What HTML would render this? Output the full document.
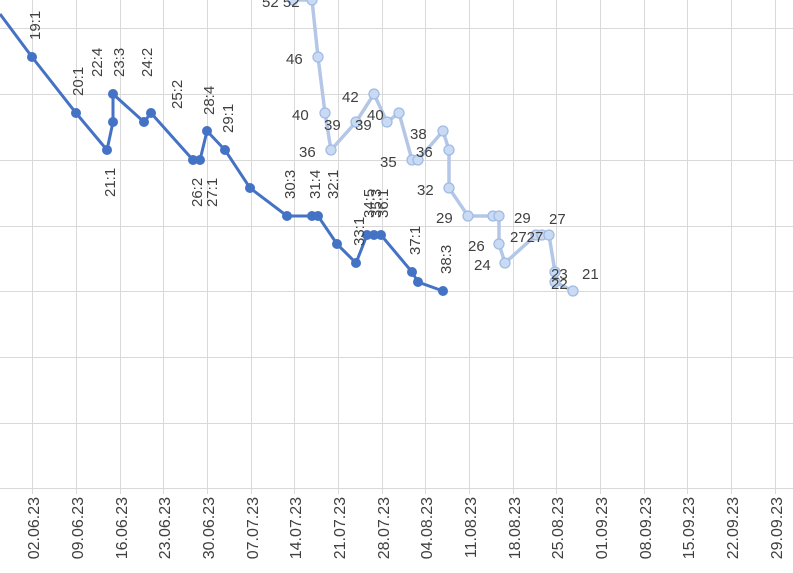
<!DOCTYPE html><html><head><style>body{margin:0;background:#fff}svg{display:block}text{font-family:"Liberation Sans",sans-serif;font-size:15px;fill:#404040}.ax{font-size:16px}</style></head><body>
<svg width="793" height="573" xmlns="http://www.w3.org/2000/svg">
<g stroke="#d9d9d9" stroke-width="1">
<line x1="0" y1="28.5" x2="793" y2="28.5"/><line x1="0" y1="94.5" x2="793" y2="94.5"/><line x1="0" y1="160.5" x2="793" y2="160.5"/><line x1="0" y1="226.5" x2="793" y2="226.5"/><line x1="0" y1="291.5" x2="793" y2="291.5"/><line x1="0" y1="357.5" x2="793" y2="357.5"/><line x1="0" y1="423.5" x2="793" y2="423.5"/><line x1="0" y1="488.5" x2="793" y2="488.5"/>
<line x1="32.5" y1="0" x2="32.5" y2="494"/><line x1="76.5" y1="0" x2="76.5" y2="494"/><line x1="120.5" y1="0" x2="120.5" y2="494"/><line x1="163.5" y1="0" x2="163.5" y2="494"/><line x1="207.5" y1="0" x2="207.5" y2="494"/><line x1="251.5" y1="0" x2="251.5" y2="494"/><line x1="294.5" y1="0" x2="294.5" y2="494"/><line x1="338.5" y1="0" x2="338.5" y2="494"/><line x1="382.5" y1="0" x2="382.5" y2="494"/><line x1="425.5" y1="0" x2="425.5" y2="494"/><line x1="469.5" y1="0" x2="469.5" y2="494"/><line x1="513.5" y1="0" x2="513.5" y2="494"/><line x1="556.5" y1="0" x2="556.5" y2="494"/><line x1="600.5" y1="0" x2="600.5" y2="494"/><line x1="644.5" y1="0" x2="644.5" y2="494"/><line x1="687.5" y1="0" x2="687.5" y2="494"/><line x1="731.5" y1="0" x2="731.5" y2="494"/><line x1="775.5" y1="0" x2="775.5" y2="494"/>
</g>
<g text-anchor="end" class="ax">
<text class="ax" transform="translate(39,497) rotate(-90)">02.06.23</text><text class="ax" transform="translate(83,497) rotate(-90)">09.06.23</text><text class="ax" transform="translate(127,497) rotate(-90)">16.06.23</text><text class="ax" transform="translate(170,497) rotate(-90)">23.06.23</text><text class="ax" transform="translate(214,497) rotate(-90)">30.06.23</text><text class="ax" transform="translate(258,497) rotate(-90)">07.07.23</text><text class="ax" transform="translate(301,497) rotate(-90)">14.07.23</text><text class="ax" transform="translate(345,497) rotate(-90)">21.07.23</text><text class="ax" transform="translate(389,497) rotate(-90)">28.07.23</text><text class="ax" transform="translate(432,497) rotate(-90)">04.08.23</text><text class="ax" transform="translate(476,497) rotate(-90)">11.08.23</text><text class="ax" transform="translate(520,497) rotate(-90)">18.08.23</text><text class="ax" transform="translate(563,497) rotate(-90)">25.08.23</text><text class="ax" transform="translate(607,497) rotate(-90)">01.09.23</text><text class="ax" transform="translate(651,497) rotate(-90)">08.09.23</text><text class="ax" transform="translate(694,497) rotate(-90)">15.09.23</text><text class="ax" transform="translate(738,497) rotate(-90)">22.09.23</text><text class="ax" transform="translate(782,497) rotate(-90)">29.09.23</text>
</g>
<polyline fill="none" stroke="#b4c7e7" stroke-width="3.5" points="293,0 312,0 318,57 325,113 331,150 356,122 374,94 387,122 399,113 412,160 418,160 443,131 449,150 449,188 468,216 493,216 499,216 499,244 505,263 536,235 542,235 549,235 555,272 555,282 573,291"/>
<g fill="#c9daf2" stroke="#9fbce6" stroke-width="1.3">
<circle cx="293" cy="0" r="5"/><circle cx="312" cy="0" r="5"/><circle cx="318" cy="57" r="5"/><circle cx="325" cy="113" r="5"/><circle cx="331" cy="150" r="5"/><circle cx="356" cy="122" r="5"/><circle cx="374" cy="94" r="5"/><circle cx="387" cy="122" r="5"/><circle cx="399" cy="113" r="5"/><circle cx="412" cy="160" r="5"/><circle cx="418" cy="160" r="5"/><circle cx="443" cy="131" r="5"/><circle cx="449" cy="150" r="5"/><circle cx="449" cy="188" r="5"/><circle cx="468" cy="216" r="5"/><circle cx="493" cy="216" r="5"/><circle cx="499" cy="216" r="5"/><circle cx="499" cy="244" r="5"/><circle cx="505" cy="263" r="5"/><circle cx="536" cy="235" r="5"/><circle cx="542" cy="235" r="5"/><circle cx="549" cy="235" r="5"/><circle cx="555" cy="272" r="5"/><circle cx="555" cy="282" r="5"/><circle cx="573" cy="291" r="5"/>
</g>
<g>
<text x="262" y="7">52 52</text><text x="286" y="64">46</text><text x="292" y="120">40</text><text x="324" y="130">39</text><text x="355" y="130">39</text><text x="342" y="102">42</text><text x="367" y="120">40</text><text x="299" y="157">36</text><text x="380" y="167">35</text><text x="410" y="139">38</text><text x="416" y="157">36</text><text x="417" y="195">32</text><text x="436" y="223">29</text><text x="514" y="223">29</text><text x="468" y="251">26</text><text x="474" y="270">24</text><text x="510" y="242">2727</text><text x="549" y="224">27</text><text x="551" y="279">23</text><text x="551" y="289">22</text><text x="582" y="279">21</text>
</g>
<polyline fill="none" stroke="#4472c4" stroke-width="3" points="0,14 32,57 76,113 107,150 113,122 113,94 144,122 151,113 193,160 200,160 207,131 225,150 250,188 287,216 312,216 318,216 337,244 356,263 367,235 374,235 381,235 412,272 418,282 443,291"/>
<g fill="#4472c4">
<circle cx="32" cy="57" r="5"/><circle cx="76" cy="113" r="5"/><circle cx="107" cy="150" r="5"/><circle cx="113" cy="122" r="5"/><circle cx="113" cy="94" r="5"/><circle cx="144" cy="122" r="5"/><circle cx="151" cy="113" r="5"/><circle cx="193" cy="160" r="5"/><circle cx="200" cy="160" r="5"/><circle cx="207" cy="131" r="5"/><circle cx="225" cy="150" r="5"/><circle cx="250" cy="188" r="5"/><circle cx="287" cy="216" r="5"/><circle cx="312" cy="216" r="5"/><circle cx="318" cy="216" r="5"/><circle cx="337" cy="244" r="5"/><circle cx="356" cy="263" r="5"/><circle cx="367" cy="235" r="5"/><circle cx="374" cy="235" r="5"/><circle cx="381" cy="235" r="5"/><circle cx="412" cy="272" r="5"/><circle cx="418" cy="282" r="5"/><circle cx="443" cy="291" r="5"/>
</g>
<g>
<text transform="translate(40,40) rotate(-90)">19:1</text><text transform="translate(83,96) rotate(-90)">20:1</text><text transform="translate(102,77) rotate(-90)">22:4</text><text transform="translate(124,77) rotate(-90)">23:3</text><text transform="translate(115,197) rotate(-90)">21:1</text><text transform="translate(152,77) rotate(-90)">24:2</text><text transform="translate(182,109) rotate(-90)">25:2</text><text transform="translate(214,115) rotate(-90)">28:4</text><text transform="translate(233,133) rotate(-90)">29:1</text><text transform="translate(202,207) rotate(-90)">26:2</text><text transform="translate(217,207) rotate(-90)">27:1</text><text transform="translate(295,199) rotate(-90)">30:3</text><text transform="translate(320,199) rotate(-90)">31:4</text><text transform="translate(338,199) rotate(-90)">32:1</text><text transform="translate(364,246) rotate(-90)">33:1</text><text transform="translate(374,218) rotate(-90)">34:5</text><text transform="translate(381,218) rotate(-90)">35:3</text><text transform="translate(388,218) rotate(-90)">36:1</text><text transform="translate(420,255) rotate(-90)">37:1</text><text transform="translate(451,274) rotate(-90)">38:3</text>
</g>
</svg>
</body></html>
